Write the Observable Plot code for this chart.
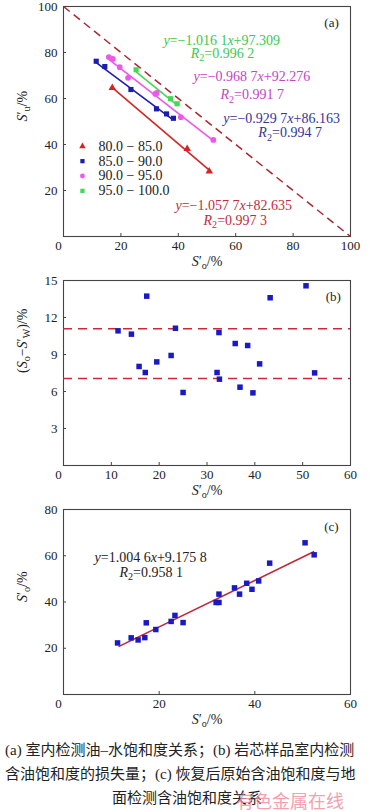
<!DOCTYPE html>
<html><head><meta charset="utf-8">
<script src="https://cdn.jsdelivr.net/npm/d3@7"></script>
<script src="https://cdn.jsdelivr.net/npm/@observablehq/plot@0.6"></script>
<style>
body{margin:0;background:#fff;width:370px;overflow:hidden;}
#chart svg{display:block;overflow:visible;}
#cap{position:relative;font-family:"Liberation Serif","Noto Sans CJK SC",serif;font-size:15px;color:#222;line-height:24px;margin-top:3px;}
#cap .l{white-space:nowrap;padding-left:5px;}
#cap .c{text-align:center;padding-left:4px;}
#wm{position:absolute;left:236px;top:50px;font-family:"Noto Sans CJK SC",sans-serif;font-size:18px;color:#f08a9c;opacity:0.8;white-space:nowrap;}
</style></head>
<body>
<div id="chart"></div>
<div id="cap">
<div class="l">(a) 室内检测油–水饱和度关系；(b) 岩芯样品室内检测</div>
<div class="l">含油饱和度的损失量；(c) 恢复后原始含油饱和度与地</div>
<div class="c">面检测含油饱和度关系</div>
<div id="wm">有色金属在线</div>
</div>
<script>
// ---------- data ----------
const seriesNames = ["80.0 − 85.0", "85.0 − 90.0", "90.0 − 95.0", "95.0 − 100.0"];
const aRedX = [17.0, 43.1, 50.8];
const aRedY = [64.6, 38.1, 28.3];
const aBlueX = [11.4, 14.4, 23.5, 32.4, 35.9, 38.3];
const aBlueY = [76.2, 73.9, 63.9, 55.5, 53.3, 51.4];
const aMagX = [15.8, 17.2, 19.6, 22.5, 32.0, 32.5, 40.9, 52.2];
const aMagY = [78.0, 77.2, 73.6, 69.0, 62.0, 62.4, 51.9, 42.0];
const aGreenX = [25.3, 37.3, 39.6];
const aGreenY = [72.5, 59.9, 57.7];
// fitted line end points (x1, y1, x2, y2) per series
const aFitX1 = [17.0, 11.4, 15.8, 25.3];
const aFitY1 = [64.7, 75.6, 77.0, 71.6];
const aFitX2 = [50.8, 38.3, 52.2, 39.6];
const aFitY2 = [28.9, 50.6, 41.7, 57.1];
const aEquations = ["*y*=−1.057 7*x*+82.635", "*y*=−0.929 7*x*+86.163", "*y*=−0.968 7*x*+92.276", "*y*=−1.016 1*x*+97.309"];
const aR2 = ["*R*_{2}=0.997 3", "*R*_{2}=0.994 7", "*R*_{2}=0.991 7", "*R*_{2}=0.996 2"];

const bX = [11.4, 14.2, 15.8, 17.1, 17.4, 19.5, 22.5, 23.4, 25.0, 32.1, 32.5, 32.6, 35.9, 36.9, 38.5, 39.6, 41.0, 43.2, 50.7, 52.5];
const bY = [10.92, 10.65, 8.03, 7.54, 13.73, 8.40, 8.92, 11.13, 5.92, 7.54, 10.78, 7.00, 9.89, 6.35, 9.73, 5.89, 8.24, 13.60, 14.57, 7.51];
const bLimits = [11.08, 7.05];

const cX = [11.3, 14.15, 15.6, 17.0, 17.3, 19.3, 22.5, 23.3, 25.0, 31.9, 32.5, 32.5, 35.75, 36.8, 38.3, 39.4, 40.8, 43.1, 50.5, 52.4];
const cY = [22.3, 24.5, 23.6, 24.6, 31.0, 28.1, 31.6, 34.2, 31.1, 39.8, 39.8, 43.4, 46.1, 43.4, 48.1, 45.5, 49.1, 56.8, 65.6, 60.4];
const cFit = {x1: 11.5, y1: 20.7, x2: 52.4, y2: 61.8};
const cEquation = "*y*=1.004 6*x*+9.175 8";
const cR2 = "*R*_{2}=0.958 1";

// ---------- styles ----------
const FONT = '"Liberation Serif","Times New Roman",serif';
const AX = "#444";
const aColors = ["#d42424", "#1c1cb0", "#ec58ec", "#44d856"];
const aTextColors = ["#c42a3e", "#35359a", "#c544c5", "#40c850"];
const aSymbols = ["triangle", "square", "circle", "square"];
const aSizes = [2.8, 2.9, 2.9, 2.9];

function richify(svg) {
  d3.select(svg).selectAll("text").each(function () {
    const s = this.textContent;
    if (!/[*_]/.test(s)) return;
    const el = d3.select(this);
    el.text(null);
    const re = /\*([^*]+)\*|_\{([^}]+)\}|([^*_]+)/g;
    let m, shift = 0;
    while ((m = re.exec(s))) {
      const t = el.append("tspan");
      if (shift) { t.attr("dy", -shift); shift = 0; }
      if (m[1]) t.attr("font-style", "italic").text(m[1]);
      else if (m[2]) { t.attr("dy", 3.5).attr("font-size", "72%").text(m[2]); shift = 3.5; }
      else t.text(m[3]);
    }
  });
  return svg;
}

function axes(xt, yt, yLabel) {
  return [
    Plot.frame({stroke: AX, strokeWidth: 1.1}),
    Plot.axisX({ticks: xt, tickFormat: d => d === 0 ? "" : d, tickSize: -3, tickPadding: 7, fontSize: 13, stroke: AX, fill: "#222", label: null}),
    Plot.axisY({ticks: yt, tickFormat: d => d === 0 ? "" : d, tickSize: -3, tickPadding: 9, fontSize: 13, stroke: AX, fill: "#222", label: null}),
    Plot.text([0], {x: () => 0, y: () => 0, text: () => "0", dx: -5, dy: 9, fontSize: 13, fill: "#222"}),
    Plot.text(["*S*′_{o}/%"], {frameAnchor: "bottom", text: d => d, dy: 29, fontSize: 14, fill: "#222"}),
    Plot.text([yLabel], {frameAnchor: "left", text: d => d, dx: -41, rotate: -90, fontSize: 14, fill: "#222"})
  ];
}

const chart = document.getElementById("chart");

// ---------- panel (a) ----------
const aPts = [];
[[aRedX, aRedY], [aBlueX, aBlueY], [aMagX, aMagY], [aGreenX, aGreenY]].forEach(([xs, ys], s) =>
  xs.forEach((x, i) => aPts.push({s, x, y: ys[i]})));
const aFits = aFitX1.map((x1, s) => ({s, x1, y1: aFitY1[s], x2: aFitX2[s], y2: aFitY2[s]}));
// equation label anchors (data units)
const aEqPos = [[39.0, 13.5], [55.7, 51.3], [45.3, 69.6], [34.8, 85.2]];
const aR2Pos = [[48.8, 7.0], [67.9, 45.2], [54.7, 61.7], [44.3, 79.6]];
const aLabels = [];
aEquations.forEach((t, s) => {
  aLabels.push({s, t, x: aEqPos[s][0], y: aEqPos[s][1]});
  aLabels.push({s, t: aR2[s], x: aR2Pos[s][0], y: aR2Pos[s][1]});
});
const legend = seriesNames.map((name, s) => ({s, name, y: 39.2 - s * 6.45}));

const plotA = Plot.plot({
  width: 370, height: 275, marginTop: 6, marginBottom: 39, marginLeft: 63, marginRight: 20,
  style: {fontFamily: FONT, fontSize: "13px", background: "#fff"},
  x: {domain: [0, 100]}, y: {domain: [0, 100]},
  marks: [
    ...axes([0, 20, 40, 60, 80, 100], [0, 20, 40, 60, 80, 100], "*S*′_{u}/%"),
    Plot.link([{x1: 0, y1: 100, x2: 100, y2: 0}], {x1: "x1", y1: "y1", x2: "x2", y2: "y2", stroke: "#b0262e", strokeWidth: 1.5, strokeDasharray: "8,5"}),
    Plot.link(aFits, {x1: "x1", y1: "y1", x2: "x2", y2: "y2", stroke: d => aColors[d.s], strokeWidth: 1.6}),
    Plot.dot(aPts, {x: "x", y: "y", symbol: d => aSymbols[d.s], fill: d => aColors[d.s], r: d => aSizes[d.s], stroke: "none"}),
    Plot.text(aLabels, {x: "x", y: "y", text: "t", fill: d => aTextColors[d.s], fontSize: 14, textAnchor: "start"}),
    Plot.dot(legend, {x: () => 6.6, y: "y", symbol: d => aSymbols[d.s], fill: d => aColors[d.s], r: 2.4}),
    Plot.text(legend, {x: () => 12.2, y: "y", text: "name", textAnchor: "start", fontSize: 14, fill: "#222"}),
    Plot.text(["(a)"], {x: () => 93.4, y: () => 93, text: d => d, fontSize: 13, fill: "#222"})
  ],
  symbol: {type: "identity"}, color: {type: "identity"}, r: {type: "identity"}
});
chart.appendChild(richify(plotA));

// ---------- panel (b) ----------
const bPts = bX.map((x, i) => ({x, y: bY[i]}));
const plotB = Plot.plot({
  width: 370, height: 230, marginTop: 5, marginBottom: 40, marginLeft: 63, marginRight: 20,
  style: {fontFamily: FONT, fontSize: "13px", background: "#fff"},
  x: {domain: [0, 60]}, y: {domain: [0, 15]},
  marks: [
    ...axes([0, 10, 20, 30, 40, 50, 60], [0, 3, 6, 9, 12, 15], "(*S*_{o}−*S*′_{W})/%"),
    Plot.ruleY(bLimits, {stroke: "#cc2836", strokeWidth: 1.5, strokeDasharray: "9,6"}),
    Plot.dot(bPts, {x: "x", y: "y", symbol: "square", fill: "#1a1ac4", r: 3.1}),
    Plot.text(["(b)"], {x: () => 56.4, y: () => 13.7, text: d => d, fontSize: 13, fill: "#222"})
  ]
});
chart.appendChild(richify(plotB));

// ---------- panel (c) ----------
const cPts = cX.map((x, i) => ({x, y: cY[i]}));
const plotC = Plot.plot({
  width: 370, height: 230, marginTop: 4, marginBottom: 41, marginLeft: 63, marginRight: 20,
  style: {fontFamily: FONT, fontSize: "13px", background: "#fff"},
  x: {domain: [0, 60]}, y: {domain: [0, 80]},
  marks: [
    ...axes([0, 20, 40, 60], [0, 20, 40, 60, 80], "*S*′_{o}/%"),
    Plot.link([cFit], {x1: "x1", y1: "y1", x2: "x2", y2: "y2", stroke: "#c0283a", strokeWidth: 1.6}),
    Plot.dot(cPts, {x: "x", y: "y", symbol: "square", fill: "#1a1ac4", r: 3.1}),
    Plot.text([cEquation], {x: () => 6.5, y: () => 59.4, text: d => d, textAnchor: "start", fontSize: 14, fill: "#222"}),
    Plot.text([cR2], {x: () => 11.7, y: () => 52.9, text: d => d, textAnchor: "start", fontSize: 14, fill: "#222"}),
    Plot.text(["(c)"], {x: () => 56.0, y: () => 72.6, text: d => d, fontSize: 13, fill: "#222"})
  ]
});
chart.appendChild(richify(plotC));
</script>
</body></html>
